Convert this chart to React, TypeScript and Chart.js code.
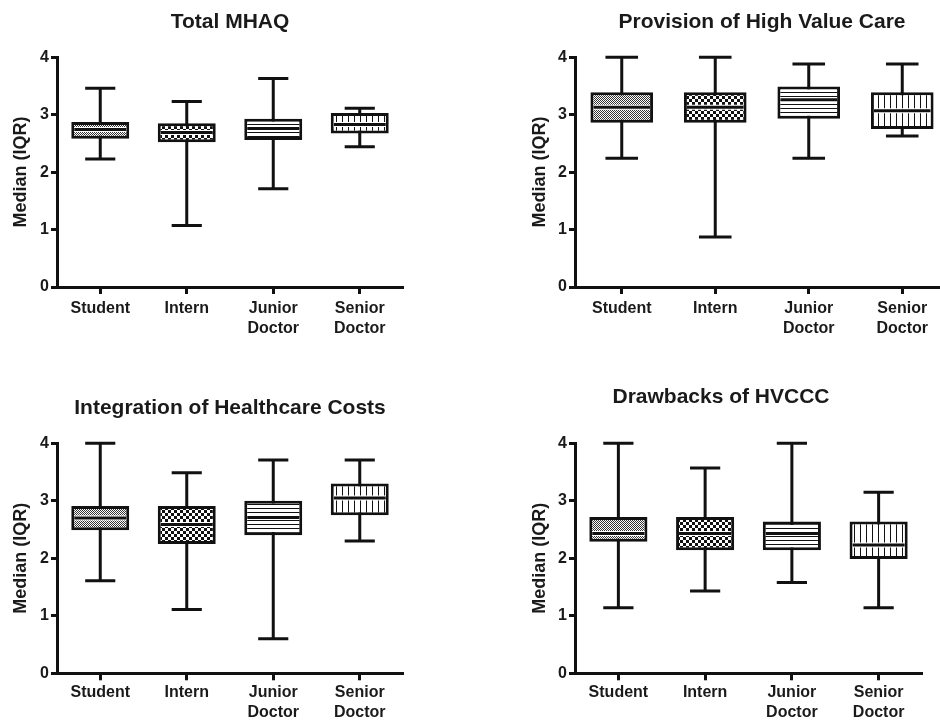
import React, { useEffect, useRef } from "react";
import { Chart, registerables } from "chart.js";

Chart.register(...registerables);

// ---------- data ----------
const categories: (string | string[])[] = ["Student", "Intern", ["Junior", "Doctor"], ["Senior", "Doctor"]];
const yTickValues = [0, 1, 2, 3, 4];
const yAxisLabel = "Median (IQR)";

const mhaqTitle = "Total MHAQ";
const mhaqMin = [2.23, 1.07, 1.71, 2.44];
const mhaqQ1 = [2.58, 2.52, 2.56, 2.67];
const mhaqMedian = [2.74, 2.69, 2.76, 2.83];
const mhaqQ3 = [2.87, 2.85, 2.93, 3.03];
const mhaqMax = [3.46, 3.23, 3.63, 3.11];

const careTitle = "Provision of High Value Care";
const careMin = [2.24, 0.87, 2.24, 2.63];
const careQ1 = [2.86, 2.86, 2.93, 2.75];
const careMedian = [3.13, 3.13, 3.26, 3.07];
const careQ3 = [3.39, 3.39, 3.49, 3.39];
const careMax = [4.0, 4.0, 3.88, 3.88];

const costTitle = "Integration of Healthcare Costs";
const costMin = [1.61, 1.11, 0.6, 2.3];
const costQ1 = [2.49, 2.25, 2.4, 2.75];
const costMedian = [2.7, 2.59, 2.71, 3.05];
const costQ3 = [2.91, 2.91, 3.0, 3.3];
const costMax = [4.0, 3.49, 3.71, 3.71];

const drawTitle = "Drawbacks of HVCCC";
const drawMin = [1.14, 1.43, 1.58, 1.14];
const drawQ1 = [2.29, 2.14, 2.14, 1.99];
const drawMedian = [2.43, 2.43, 2.43, 2.23];
const drawQ3 = [2.72, 2.72, 2.64, 2.64];
const drawMax = [4.0, 3.57, 4.0, 3.15];

// ---------- styling ----------
const FONT = "'Liberation Sans', Arial, Helvetica, sans-serif";
const INK = "#111";

function tile(w: number, h: number, draw: (c: CanvasRenderingContext2D) => void) {
  const c = document.createElement("canvas");
  c.width = w;
  c.height = h;
  const x = c.getContext("2d")!;
  x.fillStyle = "#fff";
  x.fillRect(0, 0, w, h);
  x.fillStyle = "#111";
  draw(x);
  return x.createPattern(c, "repeat")!;
}

function makePatterns() {
  return [
    tile(2, 2, (x) => {
      x.fillStyle = "#333";
      x.fillRect(0, 0, 1, 1);
      x.fillRect(1, 1, 1, 1);
    }),
    tile(6, 6, (x) => {
      x.fillRect(0, 0, 3, 3);
      x.fillRect(3, 3, 3, 3);
    }),
    tile(4, 4, (x) => x.fillRect(0, 0, 4, 1)),
    tile(6, 6, (x) => x.fillRect(0, 0, 1, 6)),
  ];
}

const boxPlugin = {
  id: "boxWhiskers",
  beforeDatasetsDraw(chart: any, _args: any, opts: any) {
    const ctx = chart.ctx;
    const y = chart.scales.y;
    const meta = chart.getDatasetMeta(0);
    ctx.save();
    ctx.strokeStyle = INK;
    ctx.lineWidth = 3;
    ctx.lineCap = "butt";
    meta.data.forEach((bar: any, i: number) => {
      const x = bar.x;
      const half = bar.width * 0.26;
      const yLo = y.getPixelForValue(opts.min[i]);
      const yHi = y.getPixelForValue(opts.max[i]);
      ctx.beginPath();
      ctx.moveTo(x, yHi);
      ctx.lineTo(x, yLo);
      ctx.moveTo(x - half, yHi);
      ctx.lineTo(x + half, yHi);
      ctx.moveTo(x - half, yLo);
      ctx.lineTo(x + half, yLo);
      ctx.stroke();
    });
    ctx.restore();
  },
  afterDatasetsDraw(chart: any, _args: any, opts: any) {
    const ctx = chart.ctx;
    const y = chart.scales.y;
    const meta = chart.getDatasetMeta(0);
    ctx.save();
    meta.data.forEach((bar: any, i: number) => {
      const l = bar.x - bar.width / 2 + 3;
      const r = bar.x + bar.width / 2 - 3;
      const ym = y.getPixelForValue(opts.median[i]);
      ctx.strokeStyle = "#fff";
      ctx.lineWidth = 5;
      ctx.beginPath();
      ctx.moveTo(l, ym);
      ctx.lineTo(r, ym);
      ctx.stroke();
      ctx.strokeStyle = INK;
      ctx.lineWidth = 3;
      ctx.beginPath();
      ctx.moveTo(l, ym);
      ctx.lineTo(r, ym);
      ctx.stroke();
    });
    ctx.restore();
  },
};

type Panel = {
  title: string;
  min: number[];
  q1: number[];
  median: number[];
  q3: number[];
  max: number[];
  left: number;
  top: number;
  width: number;
  height: number;
  padLeft: number;
  padRight: number;
  yWidth: number;
  xHeight: number;
  titleTop: number;
  titleBottom: number;
  titleFull: boolean;
  yTitlePad: number;
  tickPad: number;
};

const panels: Panel[] = [
  {
    title: mhaqTitle, min: mhaqMin, q1: mhaqQ1, median: mhaqMedian, q3: mhaqQ3, max: mhaqMax,
    left: 0, top: 0, width: 453, height: 360, padLeft: 0, padRight: 50, yWidth: 57, xHeight: 73,
    titleTop: 10, titleBottom: 22, titleFull: false, yTitlePad: 10, tickPad: 5,
  },
  {
    title: careTitle, min: careMin, q1: careQ1, median: careMedian, q3: careQ3, max: careMax,
    left: 470, top: 0, width: 499, height: 360, padLeft: 0, padRight: 20, yWidth: 105, xHeight: 73,
    titleTop: 10, titleBottom: 22, titleFull: false, yTitlePad: 59, tickPad: 5,
  },
  {
    title: costTitle, min: costMin, q1: costQ1, median: costMedian, q3: costQ3, max: costMax,
    left: 0, top: 360, width: 453, height: 360, padLeft: 0, padRight: 50, yWidth: 57, xHeight: 46.7,
    titleTop: 35.4, titleBottom: 22.7, titleFull: false, yTitlePad: 10, tickPad: 2,
  },
  {
    title: drawTitle, min: drawMin, q1: drawQ1, median: drawMedian, q3: drawQ3, max: drawMax,
    left: 470, top: 360, width: 502, height: 360, padLeft: 50, padRight: 50, yWidth: 55, xHeight: 46.7,
    titleTop: 24.4, titleBottom: 33.7, titleFull: true, yTitlePad: 9, tickPad: 2,
  },
];

function BoxPanel({ p }: { p: Panel }) {
  const ref = useRef<HTMLCanvasElement | null>(null);
  useEffect(() => {
    if (!ref.current) return;
    const patterns = makePatterns();
    const tickFont = { family: FONT, size: 16, weight: "bold" as const, lineHeight: 1.25 };
    const chart = new Chart(ref.current, {
      type: "bar",
      data: {
        labels: categories as any,
        datasets: [
          {
            data: p.q1.map((v, i) => [v, p.q3[i]]) as any,
            backgroundColor: patterns as any,
            borderColor: INK,
            borderWidth: 3,
            borderSkipped: false,
            barPercentage: 0.67,
            categoryPercentage: 1,
          },
        ],
      },
      options: {
        responsive: false,
        animation: false,
        devicePixelRatio: 1,
        layout: { padding: { left: p.padLeft, right: p.padRight, top: 0, bottom: 0 } },
        plugins: {
          legend: { display: false },
          tooltip: { enabled: false },
          title: {
            display: true,
            text: p.title,
            color: "#1a1a1a",
            fullSize: p.titleFull,
            font: { family: FONT, size: 21, weight: "bold", lineHeight: 1.2 },
            padding: { top: p.titleTop, bottom: p.titleBottom },
          },
          boxWhiskers: { min: p.min, max: p.max, median: p.median },
        } as any,
        scales: {
          x: {
            type: "category",
            offset: true,
            grid: {
              display: true,
              drawOnChartArea: false,
              drawTicks: true,
              tickLength: 7,
              tickWidth: 3,
              tickColor: INK,
              offset: false,
            },
            border: { display: true, width: 3, color: INK },
            ticks: { color: "#1a1a1a", font: tickFont, padding: p.tickPad, maxRotation: 0, autoSkip: false },
            afterFit: (s: any) => {
              s.height = p.xHeight;
            },
          },
          y: {
            min: 0,
            max: 4,
            afterBuildTicks: (s: any) => {
              s.ticks = yTickValues.map((v) => ({ value: v }));
            },
            grid: {
              display: true,
              drawOnChartArea: false,
              drawTicks: true,
              tickLength: 6,
              tickWidth: 3,
              tickColor: INK,
            },
            border: { display: true, width: 3, color: INK },
            ticks: { color: "#1a1a1a", font: { family: FONT, size: 16, weight: "bold" }, padding: 2 },
            title: {
              display: true,
              text: yAxisLabel,
              color: "#1a1a1a",
              font: { family: FONT, size: 18, weight: "bold", lineHeight: 1.2 },
              padding: { top: p.yTitlePad, bottom: 0 },
            },
            afterFit: (s: any) => {
              s.width = p.yWidth;
            },
          },
        },
      } as any,
      plugins: [boxPlugin as any],
    });
    return () => chart.destroy();
  }, [p]);
  return (
    <div style={{ position: "absolute", left: p.left, top: p.top, width: p.width, height: p.height }}>
      <canvas ref={ref} width={p.width} height={p.height} style={{ width: p.width, height: p.height, display: "block" }} />
    </div>
  );
}

export default function App() {
  return (
    <div
      style={{
        position: "absolute",
        left: 0,
        top: 0,
        width: 940,
        height: 720,
        overflow: "hidden",
        background: "#fff",
      }}
    >
      {panels.map((p, i) => (
        <BoxPanel key={i} p={p} />
      ))}
    </div>
  );
}
